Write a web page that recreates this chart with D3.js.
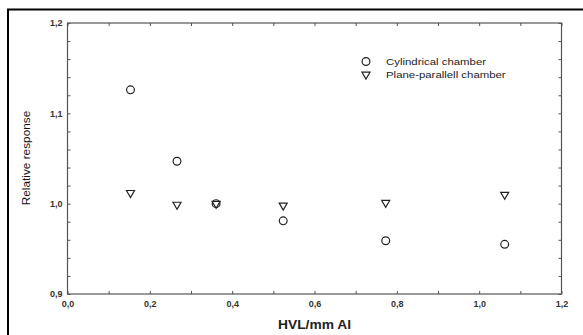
<!DOCTYPE html>
<html>
<head>
<meta charset="utf-8">
<script src="https://cdn.jsdelivr.net/npm/d3@7"></script>
<style>
  body { margin: 0; background: #fff; }
  svg { display: block; font-family: "Liberation Sans", Arial, sans-serif; }
</style>
</head>
<body>
<div id="chart"></div>
<script>
// data
const hvl = [0.153, 0.266, 0.361, 0.524, 0.773, 1.062];
const cylindrical = [1.126, 1.047, 1.000, 0.981, 0.959, 0.955];
const planeParallel = [1.012, 0.999, 1.000, 0.998, 1.001, 1.010];
const xTicks = [0, 0.2, 0.4, 0.6, 0.8, 1.0, 1.2];
const yTicks = [0.9, 1.0, 1.1, 1.2];
const seriesNames = ["Cylindrical chamber", "Plane-parallell chamber"];

const W = 583, H = 335;
const margin = { left: 67.5, top: 23, right: 21.5, bottom: 41 };
const width = W - margin.left - margin.right;
const height = H - margin.top - margin.bottom;

const fmt = d => d3.format(".1f")(d).replace(".", ",");

const svg = d3.select("#chart").append("svg")
    .attr("width", W)
    .attr("height", H);

// outer frame (cut by the image on right and bottom)
svg.append("rect")
    .attr("x", 8).attr("y", 9.5)
    .attr("width", 600).attr("height", 400)
    .attr("fill", "none").attr("stroke", "#000").attr("stroke-width", 2);

const g = svg.append("g")
    .attr("transform", `translate(${margin.left},${margin.top})`);

const x = d3.scaleLinear().domain([0, 1.2]).range([0, width]);
const y = d3.scaleLinear().domain([0.9, 1.2]).range([height, 0]);

const axisColor = "#555";
const minorX = d3.range(0, 1.21, 0.1);
const minorY = d3.range(0.9, 1.201, 0.02);

// inward ticks on all four sides
function styleAxis(sel) {
    sel.select(".domain").remove();
    sel.selectAll("line").attr("stroke", axisColor);
}
g.append("g").attr("transform", `translate(0,${height})`)
    .call(d3.axisBottom(x).tickValues(minorX).tickSize(-3).tickFormat(""))
    .call(styleAxis);
g.append("g")
    .call(d3.axisTop(x).tickValues(minorX).tickSize(-3).tickFormat(""))
    .call(styleAxis);
g.append("g")
    .call(d3.axisLeft(y).tickValues(minorY).tickSize(-3).tickFormat(""))
    .call(styleAxis);
g.append("g").attr("transform", `translate(${width},0)`)
    .call(d3.axisRight(y).tickValues(minorY).tickSize(-3).tickFormat(""))
    .call(styleAxis);

// frame
g.append("rect")
    .attr("width", width).attr("height", height)
    .attr("fill", "none").attr("stroke", axisColor).attr("stroke-width", 1.2);

// tick labels
g.append("g").attr("transform", `translate(0,${height})`)
    .call(d3.axisBottom(x).tickValues(xTicks).tickSize(0).tickPadding(7).tickFormat(fmt))
    .call(s => s.select(".domain").remove())
    .selectAll("text")
    .attr("font-size", 9).attr("font-weight", "bold").attr("fill", "#333")
    .attr("font-family", "Liberation Sans, Arial, sans-serif");
g.append("g")
    .call(d3.axisLeft(y).tickValues(yTicks).tickSize(0).tickPadding(5).tickFormat(fmt))
    .call(s => s.select(".domain").remove())
    .selectAll("text")
    .attr("font-size", 9).attr("font-weight", "bold").attr("fill", "#333")
    .attr("font-family", "Liberation Sans, Arial, sans-serif");

// axis titles
svg.append("text")
    .attr("transform", `translate(${margin.left + width / 2},329) scale(1.15,1)`)
    .attr("text-anchor", "middle")
    .attr("font-size", 12).attr("font-weight", "bold").attr("fill", "#222")
    .text("HVL/mm Al");
svg.append("text")
    .attr("transform", `translate(30,158) rotate(-90)`)
    .attr("text-anchor", "middle")
    .attr("font-size", 11.8).attr("fill", "#111")
    .text("Relative response");

const tri = d3.symbol().type(d3.symbolTriangle).size(28);

// markers
g.selectAll(".cyl")
    .data(hvl.map((h, i) => [h, cylindrical[i]]))
    .join("circle")
    .attr("cx", d => x(d[0])).attr("cy", d => y(d[1]))
    .attr("r", 3.9)
    .attr("fill", "none").attr("stroke", "#222").attr("stroke-width", 1.2);

g.selectAll(".pp")
    .data(hvl.map((h, i) => [h, planeParallel[i]]))
    .join("path")
    .attr("d", tri)
    .attr("transform", d => `translate(${x(d[0])},${y(d[1])}) rotate(180)`)
    .attr("fill", "none").attr("stroke", "#222").attr("stroke-width", 1.2);

// legend
const leg = svg.append("g").attr("transform", "translate(366,61.5)");
leg.append("circle").attr("r", 3.9)
    .attr("fill", "none").attr("stroke", "#222").attr("stroke-width", 1.2);
leg.append("path").attr("d", tri)
    .attr("transform", "translate(0,13) rotate(180)")
    .attr("fill", "none").attr("stroke", "#222").attr("stroke-width", 1.2);
leg.selectAll("text")
    .data(seriesNames)
    .join("text")
    .attr("transform", (d, i) => `translate(20,${i * 12.5 + 3.5}) scale(1.2,1)`)
    .attr("font-size", 9.5).attr("fill", "#222")
    .text(d => d);
</script>
</body>
</html>
